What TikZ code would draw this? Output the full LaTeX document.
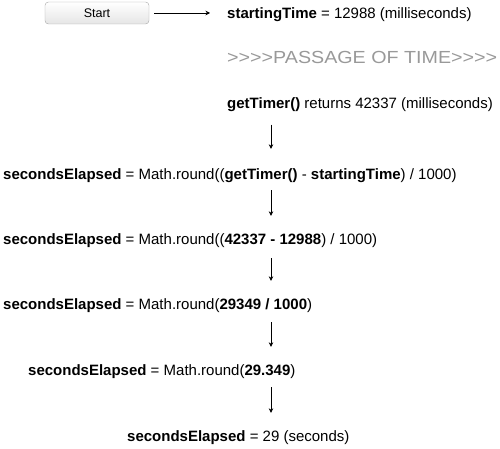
\documentclass[tikz,border=0pt]{standalone}
\usepackage{fontspec}
\usepackage{graphicx}
\setmainfont{Liberation Sans}
\usetikzlibrary{arrows.meta}
\begin{document}
\begin{tikzpicture}[x=1pt,y=-1pt,
  txt/.style={anchor=base west,inner sep=0pt,text height=11pt,text depth=3pt,font=\fontsize{15}{17}\selectfont},
  pass/.style={anchor=base west,inner sep=0pt,text=black!40,font=\fontsize{17.5}{20}\selectfont},
  btn/.style={draw=black!35,rounded corners=3.5pt,top color=white,bottom color=black!10,minimum width=104pt,minimum height=22pt,inner sep=0pt,font=\fontsize{12.5}{14}\selectfont},
  arr/.style={-{Stealth[length=4.5pt,width=4.5pt]},line width=0.6pt}]
\useasboundingbox (0,0) rectangle (500,449);
\node[btn] (b) at (97,13) {Start};
\node[txt] (st) at (227,18.5) {\textbf{startingTime} = 12988 (milliseconds)};
\node[pass] (ps) at (227,64) {\scalebox{1.125}[1]{>{}>{}>{}>{}PASSAGE OF TIME>{}>{}>{}>}};
\node[txt] (gt) at (227,108.5) {\textbf{getTimer()} returns 42337 (milliseconds)};
\node[txt] (l1) at (3,179) {\textbf{secondsElapsed} = Math.round((\textbf{getTimer()} - \textbf{startingTime}) / 1000)};
\node[txt] (l2) at (3,244) {\textbf{secondsElapsed} = Math.round((\textbf{42337 - 12988}) / 1000)};
\node[txt] (l3) at (3,309) {\textbf{secondsElapsed} = Math.round(\textbf{29349 / 1000})};
\node[txt] (l4) at (28,375) {\textbf{secondsElapsed} = Math.round(\textbf{29.349})};
\node[txt] (l5) at (127,441) {\textbf{secondsElapsed} = 29 (seconds)};
\coordinate (ax) at (271,0);
\draw[arr,shorten <=5pt,shorten >=17pt] (b.east) -- (b.east -| st.west);
\draw[arr,shorten <=13pt,shorten >=19pt] (gt.south -| ax) -- (l1.north -| ax);
\draw[arr,shorten <=8pt,shorten >=17pt] (l1.south -| ax) -- (l2.north -| ax);
\draw[arr,shorten <=11pt,shorten >=17pt] (l2.south -| ax) -- (l3.north -| ax);
\draw[arr,shorten <=10pt,shorten >=17pt] (l3.south -| ax) -- (l4.north -| ax);
\draw[arr,shorten <=9pt,shorten >=17pt] (l4.south -| ax) -- (l5.north -| ax);
\end{tikzpicture}
\end{document}
